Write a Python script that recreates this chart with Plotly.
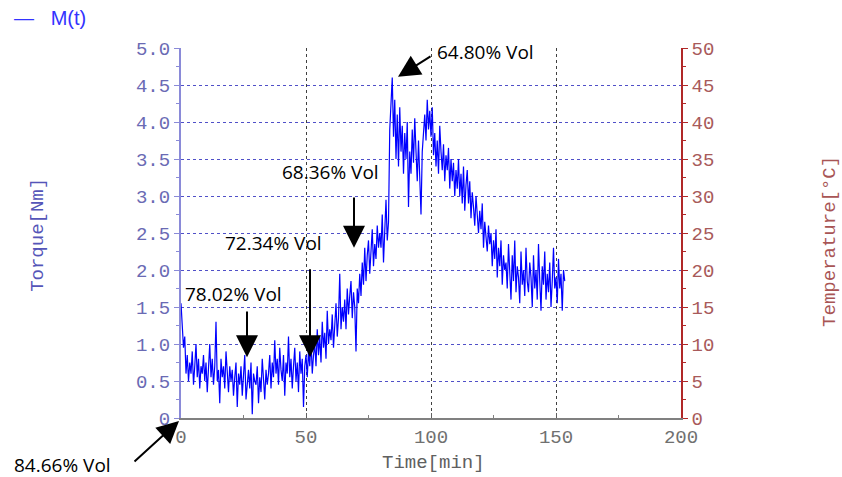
import plotly.graph_objects as go

# ---------------- data ----------------
SAMPLE_STEP_MIN = 0.5  # one torque reading every half minute

torque_0_25 = [
    1.55, 1.25, 0.95, 1.1, 0.6, 0.85, 0.5, 0.75, 0.6, 0.9, 0.45, 0.7, 1.0, 0.55, 0.8, 0.4, 0.7, 0.6, 0.85, 0.5,
    0.75, 0.35, 0.65, 1.0, 0.55, 0.8, 0.45, 0.7, 1.3, 0.5, 0.65, 0.2, 0.8, 0.55, 0.7, 0.4, 0.9, 0.6, 0.35, 0.7,
    0.5, 0.65, 0.3, 0.55, 0.75, 0.15, 0.6, 0.45, 0.7, 0.3,
]
torque_25_50 = [
    0.55, 0.85, 0.25, 0.5, 0.65, 0.4, 0.75, 0.05, 0.6, 0.5,
    0.45, 0.7, 0.2, 0.55, 0.35, 0.8, 0.5, 0.25, 0.65, 0.45, 0.6, 0.85, 0.4, 0.75, 0.55, 1.05, 0.6, 0.8, 0.45, 0.95,
    0.65, 0.5, 0.85, 0.3, 0.75, 0.6, 1.1, 0.55, 0.8, 0.4, 0.7, 0.95, 0.5, 0.75, 0.35, 0.9, 0.6, 0.8, 0.15, 0.7,
]
torque_50_80 = [
    0.85, 0.55, 0.9, 0.7, 1.05, 0.6, 0.85, 1.0, 0.7, 1.2, 0.85, 1.1, 0.75, 1.3, 0.95, 1.15, 0.8, 1.45, 1.0, 1.2,
    1.05, 1.4, 0.95, 1.3, 1.55, 1.1, 1.35, 1.95, 1.2, 1.5, 1.3, 1.6, 1.2, 1.75, 1.4, 1.65, 1.85, 1.35, 1.7, 1.5,
    0.9, 1.75, 1.55, 1.95, 1.65, 2.1, 1.8, 2.3, 1.85, 2.2, 2.4, 1.95, 2.25, 2.55, 2.05, 2.35, 2.15, 2.6, 2.3, 2.5,
]
torque_80_110 = [
    2.3, 2.75, 2.1, 2.5, 2.95, 2.4, 2.65, 3.9, 4.3, 4.6, 3.8, 4.3, 3.5, 4.1, 3.4, 4.2, 3.6, 3.95, 3.3, 3.85,
    3.5, 4.0, 2.85, 3.6, 3.3, 3.9, 3.45, 4.05, 3.6, 3.2, 3.75, 3.35, 2.75, 3.6, 3.9, 4.1, 3.75, 4.3, 3.9, 4.15,
    3.8, 4.2, 3.55, 3.85, 3.4, 3.75, 3.3, 3.95, 3.6, 3.35, 3.7, 3.2, 3.55, 3.35, 3.65, 3.1, 3.5, 3.2, 3.45, 3.0,
]
torque_110_154 = [
    3.35, 3.1, 3.5, 3.0, 3.3, 2.9, 3.4, 2.8, 3.15, 3.35, 2.9, 3.2, 2.7, 3.05, 2.85, 2.6, 3.0, 2.75, 2.5, 2.8,
    2.55, 2.9, 2.3, 2.65, 2.45, 2.25, 2.6, 2.35, 2.5, 2.05, 2.4, 2.15, 2.55, 1.9, 2.3, 2.05, 2.4, 1.8, 2.2, 2.0,
    2.1, 1.75, 2.35, 1.95, 1.6, 2.2, 1.85, 2.4, 1.7, 2.05, 1.9, 1.55, 2.25, 1.8, 2.0, 1.65, 2.3, 1.85, 1.7, 2.1,
    1.9, 1.5, 2.2, 1.75, 2.0, 1.6, 2.35, 1.85, 1.45, 2.05, 1.8, 2.25, 1.6, 1.95, 1.7, 2.1, 1.5, 1.85, 2.3, 1.75,
    1.9, 1.55, 2.15, 1.75, 1.95, 1.45, 2.0, 1.85,
]

torque = torque_0_25 + torque_25_50 + torque_50_80 + torque_80_110 + torque_110_154
time_min = [i * SAMPLE_STEP_MIN for i in range(len(torque))]

torque_ticks = [0, 0.5, 1.0, 1.5, 2.0, 2.5, 3.0, 3.5, 4.0, 4.5, 5.0]
torque_ticklabels = ["0", "0.5", "1.0", "1.5", "2.0", "2.5", "3.0", "3.5", "4.0", "4.5", "5.0"]
temp_ticks = [0, 5, 10, 15, 20, 25, 30, 35, 40, 45, 50]
time_ticks = [0, 50, 100, 150, 200]

# annotations: (label, arrow head time, arrow head torque, tail torque, text time, text torque)
vol_labels = ["78.02% Vol", "72.34% Vol", "68.36% Vol"]
vol_head_t = [26.4, 51.6, 69.2]
vol_head_y = [0.82, 0.82, 2.30]
vol_tail_y = [1.46, 2.03, 3.00]
vol_text_t = [20.8, 36.8, 59.6]
vol_text_y = [1.68, 2.36, 3.32]

# ---------------- figure ----------------
MONO = "Liberation Mono, Courier New, monospace"
LBL = "Open Sans, Liberation Sans, sans-serif"
TICK_SIZE = 19
LBL_SIZE = 19
ARROW = dict(showarrow=True, arrowhead=2, arrowsize=2.2, arrowwidth=2, arrowcolor="black")

fig = go.Figure()
fig.add_trace(go.Scatter(
    x=time_min, y=torque, mode="lines", name="M(t)",
    line=dict(color="#0000ff", width=1.2), showlegend=False,
))
# invisible trace to keep the temperature axis drawn
fig.add_trace(go.Scatter(x=[0], y=[0], yaxis="y2", mode="markers",
                         marker=dict(opacity=0), showlegend=False, hoverinfo="skip"))

fig.update_layout(
    width=842, height=477,
    margin=dict(l=181, r=161, t=48, b=59),
    paper_bgcolor="white", plot_bgcolor="white",
    xaxis=dict(
        range=[0, 200], tickvals=time_ticks, ticktext=[str(v) for v in time_ticks],
        tickfont=dict(family=MONO, size=TICK_SIZE, color="#707070"),
        showline=True, linecolor="#808080", linewidth=2,
        ticks="inside", ticklen=5, tickcolor="#606060",
        showgrid=True, gridcolor="#404040", griddash="dot", gridwidth=1,
        minor=dict(tickvals=[25, 75, 125, 175], ticks="inside", ticklen=3,
                   tickcolor="#808080", showgrid=False),
        zeroline=False,
    ),
    yaxis=dict(
        range=[0, 5], tickvals=torque_ticks, ticktext=torque_ticklabels,
        tickfont=dict(family=MONO, size=TICK_SIZE, color="#6a6ab4"),
        showline=True, linecolor="#8a8ad8", linewidth=2,
        ticks="outside", ticklen=5, tickcolor="#8a8ad8",
        showgrid=True, gridcolor="#5050c8", griddash="dot", gridwidth=1,
        minor=dict(tickvals=[v + 0.25 for v in torque_ticks[:-1]], ticks="outside",
                   ticklen=3, tickcolor="#8a8ad8", showgrid=False),
        zeroline=False,
    ),
    yaxis2=dict(
        range=[0, 50], overlaying="y", side="right", anchor="x",
        tickvals=temp_ticks, ticktext=[str(v) for v in temp_ticks],
        tickfont=dict(family=MONO, size=TICK_SIZE, color="#a85a5a"),
        showline=True, linecolor="#b02828", linewidth=1.5,
        ticks="outside", ticklen=5, tickcolor="#b02828",
        minor=dict(tickvals=[v + 2.5 for v in temp_ticks[:-1]], ticks="outside",
                   ticklen=3, tickcolor="#b02828", showgrid=False),
        showgrid=False, zeroline=False,
    ),
)

annotations = []
# axis titles
annotations.append(dict(text="Torque[Nm]", xref="paper", yref="paper", x=-0.286, y=0.495,
                        xanchor="center", yanchor="middle",
                        textangle=-90, showarrow=False,
                        font=dict(family=MONO, size=TICK_SIZE, color="#5555b8")))
annotations.append(dict(text="Temperature[°C]", xref="paper", yref="paper", x=1.298, y=0.476,
                        xanchor="center", yanchor="middle",
                        textangle=-90, showarrow=False,
                        font=dict(family=MONO, size=TICK_SIZE, color="#a85555")))
annotations.append(dict(text="Time[min]", xref="paper", yref="paper", x=0.504, y=-0.122,
                        xanchor="center", yanchor="middle",
                        showarrow=False, font=dict(family=MONO, size=TICK_SIZE, color="#606060")))
# legend-like label
annotations.append(dict(text="—   M(t)", xref="paper", yref="paper", x=-0.338, y=1.081,
                        xanchor="left", yanchor="middle", showarrow=False,
                        font=dict(family="Liberation Sans, Arial", size=20, color="#3333ff")))

# vertical arrows with labels
for lab, ht, hy, ty, xt, yt in zip(vol_labels, vol_head_t, vol_head_y, vol_tail_y, vol_text_t, vol_text_y):
    annotations.append(dict(text="", x=ht, y=hy, ax=ht, ay=ty, xref="x", yref="y",
                            axref="x", ayref="y", **ARROW))
    annotations.append(dict(text=lab, x=xt, y=yt, xref="x", yref="y", showarrow=False,
                            xanchor="center", yanchor="middle",
                            font=dict(family=LBL, size=LBL_SIZE, color="black")))

# peak arrow
annotations.append(dict(text="", x=86.8, y=4.61, ax=100.4, ay=4.9, xref="x", yref="y",
                        axref="x", ayref="y", **ARROW))
annotations.append(dict(text="64.80% Vol", x=101.6, y=4.95, xref="x", yref="y",
                        xanchor="left", yanchor="middle",
                        showarrow=False, font=dict(family=LBL, size=LBL_SIZE, color="black")))
# start arrow (outside plot, toward origin)
annotations.append(dict(text="", x=-0.004, y=-0.008, xref="paper", yref="paper",
                        ax=-46, ay=42, **ARROW))
annotations.append(dict(text="84.66% Vol", xref="paper", yref="paper", x=-0.238, y=-0.126,
                        xanchor="center", yanchor="middle",
                        showarrow=False, font=dict(family=LBL, size=LBL_SIZE, color="black")))

fig.update_layout(annotations=annotations)
fig.write_html("out.html")
